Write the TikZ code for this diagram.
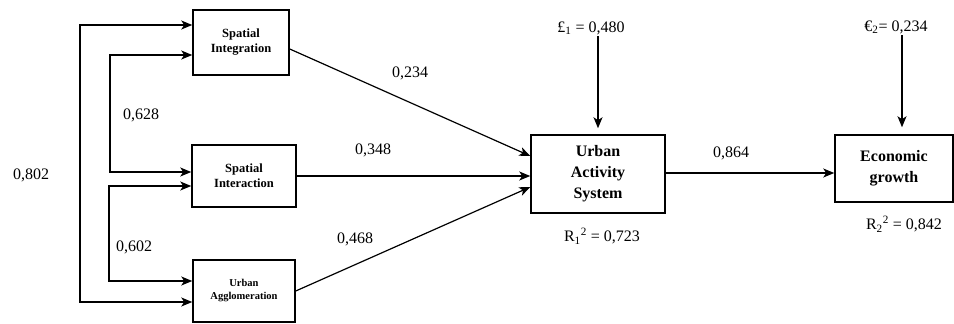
\documentclass[tikz,border=0pt]{standalone}
\usepackage{fontspec}
\setmainfont{Liberation Serif}
\usetikzlibrary{arrows.meta}
\usetikzlibrary{positioning}

\tikzset{
  box/.style={draw, line width=1.5pt, align=center, inner sep=2pt},
  num/.style={font=\fontsize{16}{18}\selectfont, inner sep=1pt},
}

\begin{document}
\begin{tikzpicture}[x=1pt, y=-1pt, >={Stealth[length=11pt,width=9pt,inset=3pt]}, line width=1.2pt]
  \useasboundingbox (0,0) rectangle (954,324);
  % exogenous boxes
  \node [box, minimum width=96pt, minimum height=65pt, font=\bfseries\fontsize{12.5}{15}\selectfont] (si) at (241,42.5) {Spatial\\Integration};
  \node [box, minimum width=104pt, minimum height=62pt, font=\bfseries\fontsize{12.5}{15}\selectfont] (sint) at (244,176) {Spatial\\Interaction};
  \node [box, minimum width=102pt, minimum height=62pt, font=\bfseries\fontsize{10.5}{13}\selectfont] (ua) at (244,291) {Urban\\Agglomeration};
  % endogenous boxes
  \node [box, minimum width=134pt, minimum height=78pt, font=\bfseries\fontsize{16}{21}\selectfont] (uas) at (598,174) {Urban\\Activity\\System};
  \node [box, minimum width=118pt, minimum height=67pt, font=\bfseries\fontsize{16}{21}\selectfont] (eg) at (894,168.5) {Economic\\growth};
  % correlations
  \draw [<->] (si.west |- 0,25) -- (80,25) -- (80,302) -- (ua.west |- 0,302);
  \draw [<->] (si.west |- 0,55) -- (110,55) -- (110,172) -- (sint.west |- 0,172);
  \draw [<->] (sint.west |- 0,186) -- (109,186) -- (109,281) -- (ua.west |- 0,281);
  \node [num] (c1) at (31,175) {0,802};
  \node [num] (c2) at (141,115) {0,628};
  \node [num] (c3) at (134,247) {0,602};
  % paths
  \draw [->] (si.east |- 0,49) -- (uas.west |- 0,156);
  \draw [->] (sint.east |- 0,176) -- (uas.west |- 0,176);
  \draw [->] (ua.east |- 0,291) -- (uas.west |- 0,187);
  \draw [->] (uas.east |- 0,173) -- (eg.west |- 0,173);
  \node [num] (p1) at (410,73) {0,234};
  \node [num] (p2) at (373,150) {0,348};
  \node [num] (p3) at (355,239) {0,468};
  \node [num] (p4) at (731,153) {0,864};
  % errors
  \node [num] (e1) at (591,28) {£\textsubscript{1} = 0,480};
  \node [num] (e2) at (896,27) {€\textsubscript{2}= 0,234};
  \draw [->] (e1.south -| uas.north) -- ([yshift=6pt]uas.north);
  \draw [->] (e2.south -| 902,0) -- ([yshift=7pt]eg.north -| 902,0);
  \node [num] (r1) at (602,236) {R\textsubscript{1}\textsuperscript{2} = 0,723};
  \node [num] (r2) at (904,224) {R\textsubscript{2}\textsuperscript{2} = 0,842};
\end{tikzpicture}
\end{document}
